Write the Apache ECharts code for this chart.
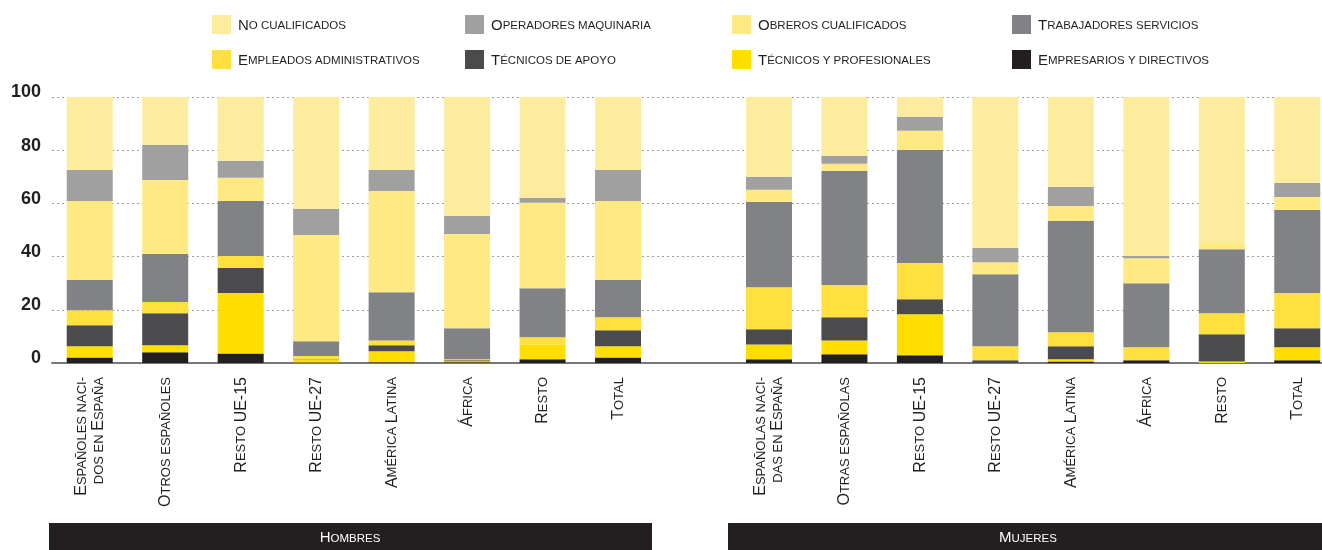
<!DOCTYPE html>
<html><head><meta charset="utf-8">
<script src="https://cdn.jsdelivr.net/npm/echarts@6/dist/echarts.min.js"></script>
<style>html,body{margin:0;padding:0;background:#fff;overflow:hidden;width:1322px;height:550px}#c{width:1340px;height:550px}</style>
</head><body><div id="c"></div>
<script>
// ---- data ----
const categories = ["Españoles naci-\ndos en España","Otros españoles","Resto UE-15","Resto UE-27","América Latina","África","Resto","Total","",
  "Españolas naci-\ndas en España","Otras españolas","Resto UE-15","Resto UE-27","América Latina","África","Resto","Total"];
const groupLabels = ["Hombres","Mujeres"];
const yTicks = [0,20,40,60,80,100];
const seriesNames = ["Empresarios y directivos","Técnicos y profesionales","Técnicos de apoyo","Empleados administrativos",
  "Trabajadores servicios","Obreros cualificados","Operadores maquinaria","No cualificados"];
const empresarios  = [2.1,4.0,3.6,0.2,0.3,0.3,1.4,2.1,null, 1.4,3.3,2.9,0,0.6,1.0,0,1.0];
const tecProf      = [4.2,2.7,22.7,1.2,4.1,0.4,5.6,4.2,null, 5.6,5.2,15.4,0,0.8,0,0.6,4.9];
const tecApoyo     = [7.9,12.0,9.4,0.2,2.3,0.3,0,6.0,null, 5.7,8.7,5.7,1.0,4.9,0,10.2,7.2];
const empleados    = [5.6,4.2,4.5,1.0,1.8,0.4,2.7,4.9,null, 15.8,12.1,13.6,5.3,5.3,4.9,7.9,13.2];
const trabServ     = [11.4,18.1,20.7,5.6,18.1,11.7,18.4,14.0,null, 32.1,42.9,42.6,27.1,41.8,24.1,24.1,31.2];
const obreros      = [29.7,27.8,8.7,39.9,38.1,35.4,32.1,29.7,null, 4.5,2.7,7.1,4.5,5.6,9.4,2.3,4.9];
const operadores   = [11.7,13.2,6.4,9.8,7.9,6.8,1.9,11.7,null, 4.9,3.0,5.3,5.3,7.2,0.8,0,5.3];
const noCual       = [27.4,18.0,24.0,42.1,27.4,44.7,37.9,27.4,null, 30.0,22.1,7.4,56.8,33.8,59.8,54.9,32.3];
const seriesValues = [empresarios,tecProf,tecApoyo,empleados,trabServ,obreros,operadores,noCual];
const seriesColors = ["#231f20","#ffde00","#4b4a4c","#ffe03f","#818285","#fee982","#a0a0a1","#feec9e"];

const FONT = "'Liberation Sans', Arial, Helvetica, sans-serif";
// small caps rendering via rich text
function sc(s){
  let out='', cur=null, buf='';
  function flush(){ if(buf){ out += '{'+cur+'|'+buf+'}'; } buf=''; }
  for (const ch of s){
    if (ch === '\n'){ flush(); out += '\n'; continue; }
    const up = ch.toUpperCase(), low = ch.toLowerCase();
    let st, c = ch;
    if (up !== low && ch === low){ st='b'; c=up; }
    else if (up !== low){ st='a'; }
    else if (/[0-9]/.test(ch)){ st='a'; }
    else { st = cur || 'b'; }
    if (st !== cur){ flush(); cur = st; }
    buf += c;
  }
  flush();
  return out;
}
function richSet(big, small, color, lh){
  lh = lh || big+2;
  return {
    a:{fontSize:big, fontFamily:FONT, color:color, fill:color, verticalAlign:'bottom', lineHeight:lh},
    b:{fontSize:small, fontFamily:FONT, color:color, fill:color, verticalAlign:'bottom', lineHeight:lh, padding:[0,0,1,0]}
  };
}

const chart = echarts.init(document.getElementById('c'), null, {renderer:'canvas'});

const legendCols = [
  {left:212, names:["No cualificados","Empleados administrativos"]},
  {left:465, names:["Operadores maquinaria","Técnicos de apoyo"]},
  {left:732, names:["Obreros cualificados","Técnicos y profesionales"]},
  {left:1012, names:["Trabajadores servicios","Empresarios y directivos"]}
];

const option = {
  animation:false,
  backgroundColor:'#ffffff',
  legend: legendCols.map(col => ({
    left: col.left, top: 15, orient:'vertical', itemWidth:19, itemHeight:19, itemGap:16,
    icon:'rect', selectedMode:false, padding:0,
    data: col.names,
    formatter: n => sc(n),
    textStyle:{ color:'#231f20', fontFamily:FONT, rich: richSet(15, 11.5, '#231f20'), padding:[0,0,0,2] }
  })),
  grid:{ left:52, top:97, height:266, width:1283, containLabel:false },
  xAxis:{
    type:'category', data:categories,
    axisTick:{show:false},
    axisLine:{ lineStyle:{ color:'#77787b', width:2 } },
    axisLabel:{ interval:0, rotate:90, margin:14, color:'#231f20',
      formatter: v => sc(v), rich: richSet(16, 13, '#231f20', 17) }
  },
  yAxis:{
    type:'value', min:yTicks[0], max:yTicks[yTicks.length-1], interval:yTicks[1]-yTicks[0],
    axisLine:{show:false}, axisTick:{show:false},
    axisLabel:{ margin:11, color:'#231f20', fontSize:18, fontWeight:'bold', fontFamily:FONT, verticalAlign:'bottom', lineHeight:9 },
    splitLine:{ lineStyle:{ color:'#9d9d9d', type:[2,3], width:1 } }
  },
  series: seriesNames.map((n,i) => ({
    name:n, type:'bar', stack:'total', barWidth:46,
    data: seriesValues[i],
    itemStyle:{ color: seriesColors[i] },
    emphasis:{ disabled:true }
  })),
  graphic:[
    { type:'rect', shape:{x:49, y:523, width:603, height:27}, style:{fill:'#231f20'} },
    { type:'rect', shape:{x:728, y:523, width:612, height:27}, style:{fill:'#231f20'} },
    { type:'text', x:350, y:537, style:{ text: sc(groupLabels[0]), align:'center', verticalAlign:'middle', fill:'#ffffff', rich: richSet(15, 11.5, '#ffffff') } },
    { type:'text', x:1028, y:537, style:{ text: sc(groupLabels[1]), align:'center', verticalAlign:'middle', fill:'#ffffff', rich: richSet(15, 11.5, '#ffffff') } }
  ]
};
chart.setOption(option);
</script>
</body></html>
